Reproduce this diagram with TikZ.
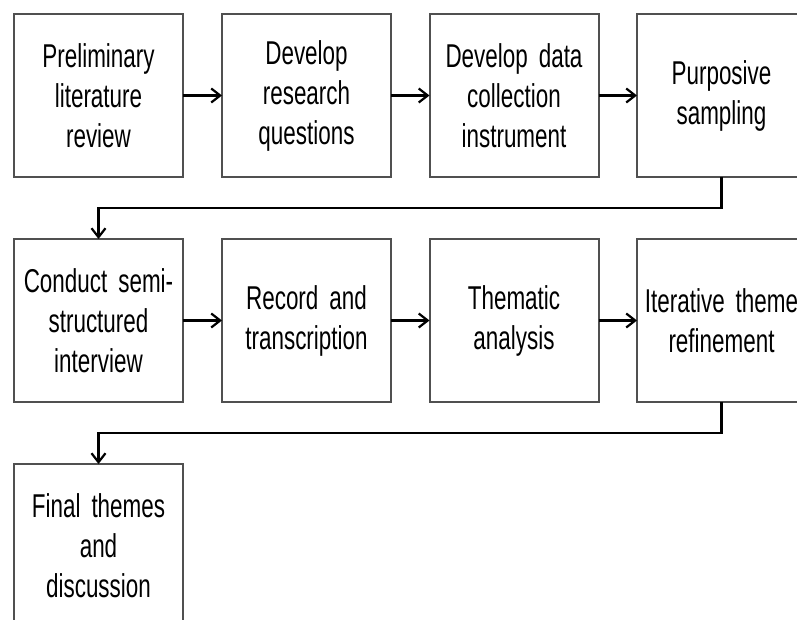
\documentclass[tikz,border=0pt]{standalone}
\usepackage{fontspec}
\setmainfont{Liberation Sans}[FakeStretch=0.68, WordSpace=0.6]
\usepackage{tikz}
\usetikzlibrary{arrows.meta}
\newcommand{\stepwidth}{169pt}
\newcommand{\stepheight}{163pt}
\definecolor{boxgrey}{RGB}{80,80,80}
\tikzstyle{stepbox}=[draw=boxgrey, line width=2pt, fill=white, inner sep=0, outer sep=0,
                     minimum width=\stepwidth, minimum height=\stepheight,
                     text width=165pt, align=center, font=\fontsize{33}{40}\selectfont]
\tikzstyle{flow}=[draw=black, line width=2.7pt, -{Straight Barb[length=9pt, width=14pt, line width=2.2pt]}]
\tikzstyle{flowchart}=[x=1pt, y=-1pt]
\begin{document}
\begin{tikzpicture}[flowchart]
    \useasboundingbox (0, 0) rectangle (797, 620);
    % first row
    \node[stepbox] (review) at (98.5, 95.5) {Preliminary\\literature\\review};
    \node[stepbox] (questions) at (306.5, 95.5) {Develop\\research\\questions};
    \node[stepbox] (instrument) at (514, 95.5) {Develop data\\collection\\instrument};
    \node[stepbox] (sampling) at (721.5, 95.5) {Purposive\\sampling};
    % second row
    \node[stepbox] (interview) at (98.5, 320.5) {Conduct semi-\\structured\\interview};
    \node[stepbox] (transcription) at (306.5, 320.5) {Record and\\transcription};
    \node[stepbox] (analysis) at (514, 320.5) {Thematic\\analysis};
    \node[stepbox] (refinement) at (721.5, 320.5) {Iterative theme\\refinement};
    % last row
    \node[stepbox] (discussion) at (98.5, 545.5) {Final themes\\and\\discussion};
    \draw[flow] (review) -- (questions);
    \draw[flow] (questions) -- (instrument);
    \draw[flow] (instrument) -- (sampling);
    \draw[flow] (sampling.south) -- ++(0, 31) -| (interview.north);
    \draw[flow] (interview) -- (transcription);
    \draw[flow] (transcription) -- (analysis);
    \draw[flow] (analysis) -- (refinement);
    \draw[flow] (refinement.south) -- ++(0, 31) -| (discussion.north);
\end{tikzpicture}
\end{document}
